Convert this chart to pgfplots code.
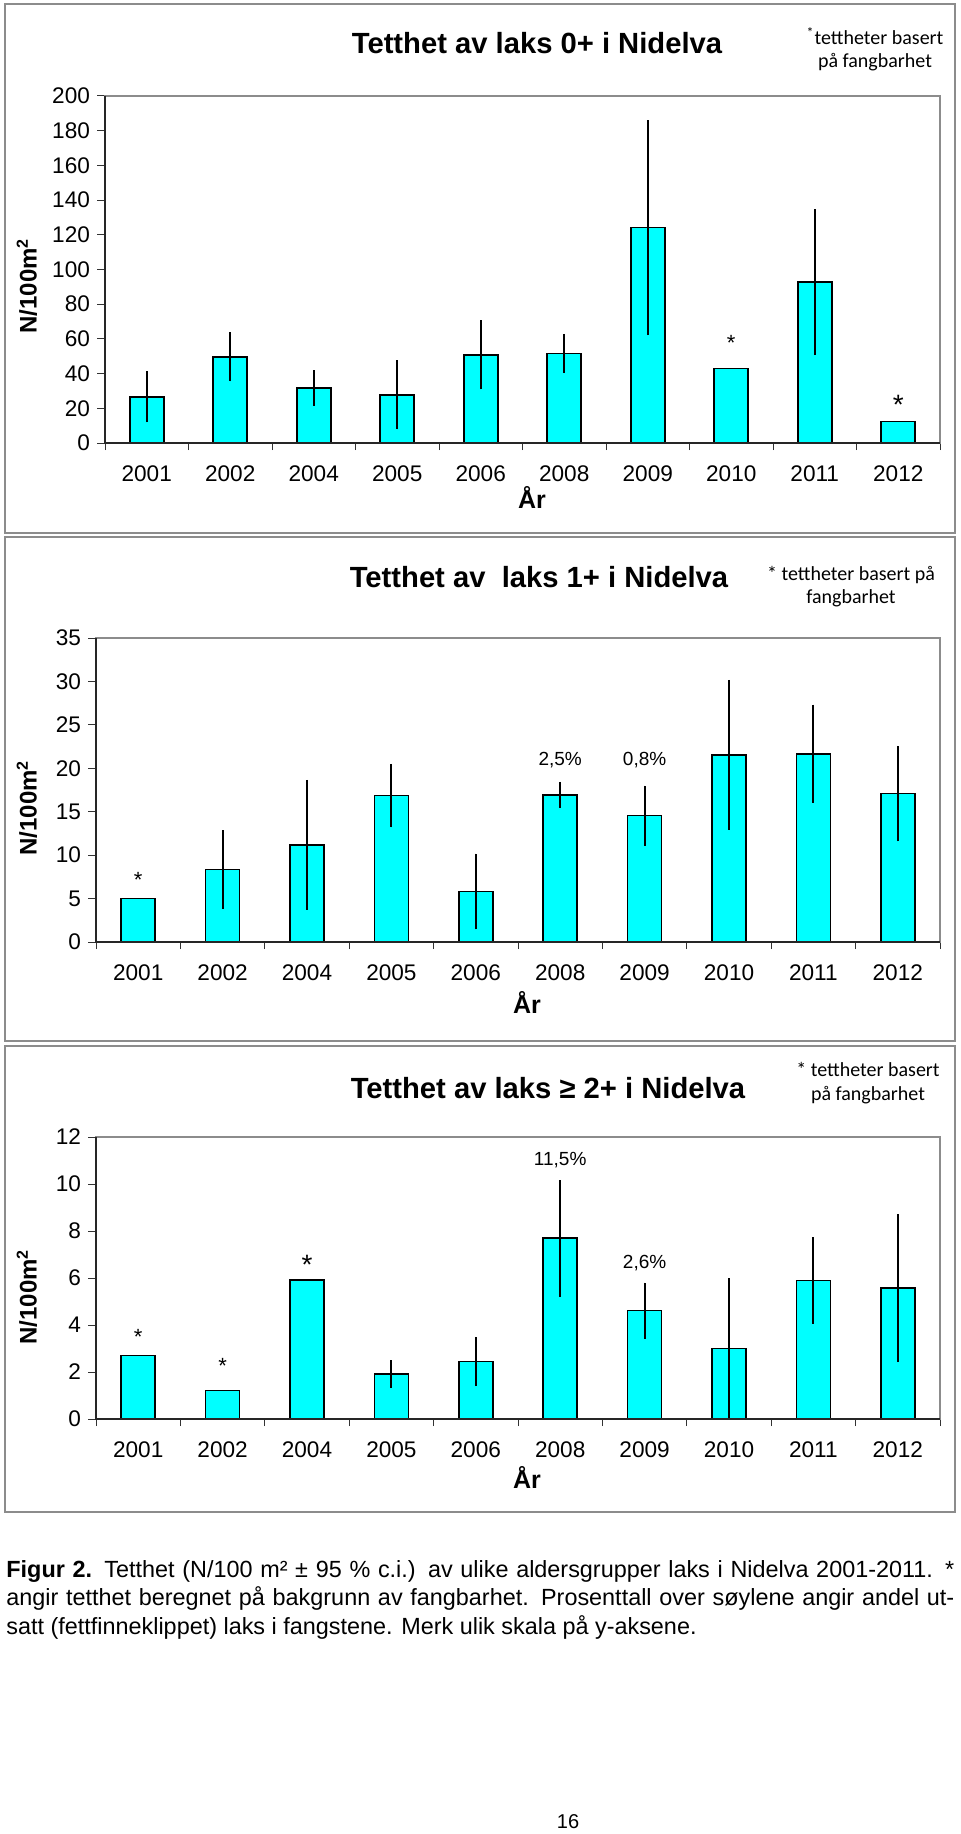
\documentclass[border=0pt]{standalone}
\usepackage{pgfplots}
\usepackage{pgfplotstable}
\pgfplotsset{compat=1.18}
\usepackage{fontspec}
\setmainfont{Liberation Sans}
\newfontfamily\notefont{Carlito}
\definecolor{barcyan}{RGB}{0,255,255}
\definecolor{framegray}{RGB}{140,140,140}

\pgfplotstableread{
x y e
0 26.6 14.7
1 49.7 14.2
2 31.8 10.2
3 27.8 20.0
4 50.8 19.9
5 51.6 11.3
6 124.1 61.9
7 42.9 0
8 92.7 42.0
9 12.5 0
}\dataA
\pgfplotstableread{
x y e
0 5.0 0
1 8.35 4.5
2 11.2 7.47
3 16.85 3.66
4 5.82 4.37
5 16.93 1.5
6 14.55 3.45
7 21.52 8.65
8 21.68 5.65
9 17.08 5.5
}\dataB
\pgfplotstableread{
x y e
0 2.70 0
1 1.21 0
2 5.91 0
3 1.91 0.59
4 2.45 1.05
5 7.69 2.48
6 4.61 1.19
7 3.0 3.0
8 5.90 1.84
9 5.57 3.15
}\dataC

\pgfplotsset{
  nid/.style={
    scale only axis,
    anchor=south west,
    xmin=-0.5, xmax=9.5, ymin=0,
    enlargelimits=false,
    clip=false,
    ybar, bar width=17pt,
    xtick={0,...,9},
    xticklabels={2001,2002,2004,2005,2006,2008,2009,2010,2011,2012},
    minor xtick={-0.5,0.5,...,9.5},
    tick align=outside,
    major x tick style={draw=none},
    minor x tick style={black!80, line width=0.5pt},
    major tick length=4pt, minor tick length=3.5pt,
    ytick style={black!80, line width=0.5pt},
    ticklabel style={font=\fontsize{11.3}{13}\selectfont},
    xticklabel style={yshift=-4pt},
    /pgf/number format/assume math mode=true,
    axis line style={draw=framegray, line width=0.6pt},
    ytick pos=left, xtick pos=bottom,
  },
  barst/.style={fill=barcyan, draw=black, line width=0.8pt,
    error bars/.cd, y dir=both, y explicit, error mark=none,
    error bar style={line width=1pt, black}},
}
\newcommand{\axlines}{\draw[black!85, line width=0.6pt] (rel axis cs:0,1) -- (rel axis cs:0,0) -- (rel axis cs:1,0);}

\begin{document}
\begin{tikzpicture}
\fill[white] (0,0) rectangle (480pt,-917pt);
\useasboundingbox (0,0) rectangle (480pt,-917pt);

% panel frames
\draw[framegray, line width=0.65pt] (2.5pt,-2pt) rectangle (477.5pt,-266.5pt);
\draw[framegray, line width=0.65pt] (2.5pt,-268.5pt) rectangle (477.5pt,-520.5pt);
\draw[framegray, line width=0.65pt] (2.5pt,-523pt) rectangle (477.5pt,-756pt);

% ---------- Panel 1 ----------
\begin{axis}[nid, at={(52.5pt,-221.5pt)}, width=417.5pt, height=173.5pt,
  ymax=200, ytick={0,20,...,200}]
\addplot[barst] table[x=x, y=y, y error=e] {\dataA};
\axlines
\node[font=\fontsize{11}{12}\selectfont, yshift=-2pt] at (axis cs:7,60) {*};
\node[font=\fontsize{14}{15}\selectfont, yshift=-2.5pt] at (axis cs:9,25) {*};
\end{axis}
\node[font=\bfseries\fontsize{14.6}{16}\selectfont] at (268.5pt,-21.5pt) {Tetthet av laks 0+ i Nidelva};
\node[align=center, font=\notefont\fontsize{10}{11.6}\selectfont] at (437.5pt,-24.5pt) {\textsuperscript{*}tettheter basert\\på fangbarhet};
\node[rotate=90, font=\bfseries\fontsize{12}{14}\selectfont] at (13.5pt,-143pt) {N/100m\textsuperscript{2}};
\node[font=\bfseries\fontsize{12.5}{14}\selectfont] at (266pt,-248.7pt) {År};

% ---------- Panel 2 ----------
\begin{axis}[nid, at={(48pt,-471pt)}, width=422pt, height=152pt,
  ymax=35, ytick={0,5,...,35}]
\addplot[barst] table[x=x, y=y, y error=e] {\dataB};
\axlines
\node[font=\fontsize{11}{12}\selectfont, yshift=-2pt] at (axis cs:0,7.6) {*};
\node[font=\fontsize{9.5}{11}\selectfont] at (axis cs:5,20.95) {2,5\%};
\node[font=\fontsize{9.5}{11}\selectfont] at (axis cs:6,20.95) {0,8\%};
\end{axis}
\node[font=\bfseries\fontsize{14.6}{16}\selectfont] at (269.5pt,-288.5pt) {Tetthet av\ \ laks 1+ i Nidelva};
\node[align=center, font=\notefont\fontsize{10}{11.8}\selectfont] at (425.5pt,-293.3pt) {* tettheter basert på\\fangbarhet};
\node[rotate=90, font=\bfseries\fontsize{12}{14}\selectfont] at (13.5pt,-404pt) {N/100m\textsuperscript{2}};
\node[font=\bfseries\fontsize{12.5}{14}\selectfont] at (263.5pt,-501pt) {År};

% ---------- Panel 3 ----------
\begin{axis}[nid, at={(48pt,-709.5pt)}, width=422pt, height=141pt,
  ymax=12, ytick={0,2,...,12}]
\addplot[barst] table[x=x, y=y, y error=e] {\dataC};
\axlines
\node[font=\fontsize{11}{12}\selectfont, yshift=-2pt] at (axis cs:0,3.66) {*};
\node[font=\fontsize{11}{12}\selectfont, yshift=-2pt] at (axis cs:1,2.43) {*};
\node[font=\fontsize{14}{15}\selectfont, yshift=-2.5pt] at (axis cs:2,6.78) {*};
\node[font=\fontsize{9.5}{11}\selectfont] at (axis cs:5,11.0) {11,5\%};
\node[font=\fontsize{9.5}{11}\selectfont] at (axis cs:6,6.65) {2,6\%};
\end{axis}
\node[font=\bfseries\fontsize{14.6}{16}\selectfont] at (274pt,-544pt) {Tetthet av laks ≥ 2+ i Nidelva};
\node[align=center, font=\notefont\fontsize{10}{12}\selectfont] at (434pt,-541.8pt) {* tettheter basert\\på fangbarhet};
\node[rotate=90, font=\bfseries\fontsize{12}{14}\selectfont] at (13.5pt,-648.5pt) {N/100m\textsuperscript{2}};
\node[font=\bfseries\fontsize{12.5}{14}\selectfont] at (263.5pt,-738.5pt) {År};

% ---------- Caption ----------
\node[anchor=base west, inner sep=0pt, font=\fontsize{11.7}{14}\selectfont] at (3pt,-788.5pt)
  {\makebox[474pt][s]{\textbf{Figur 2.} Tetthet (N/100 m² ± 95 \% c.i.) av ulike aldersgrupper laks i Nidelva 2001-2011. *}};
\node[anchor=base west, inner sep=0pt, font=\fontsize{11.7}{14}\selectfont] at (3pt,-802.5pt)
  {\makebox[474pt][s]{angir tetthet beregnet på bakgrunn av fangbarhet. Prosenttall over søylene angir andel ut-}};
\node[anchor=base west, inner sep=0pt, font=\fontsize{11.7}{14}\selectfont] at (3pt,-817pt)
  {satt (fettfinneklippet) laks i fangstene. Merk ulik skala på y-aksene.};
\node[anchor=base, inner sep=0pt, font=\fontsize{10}{12}\selectfont] at (284pt,-914pt) {16};
\end{tikzpicture}
\end{document}
